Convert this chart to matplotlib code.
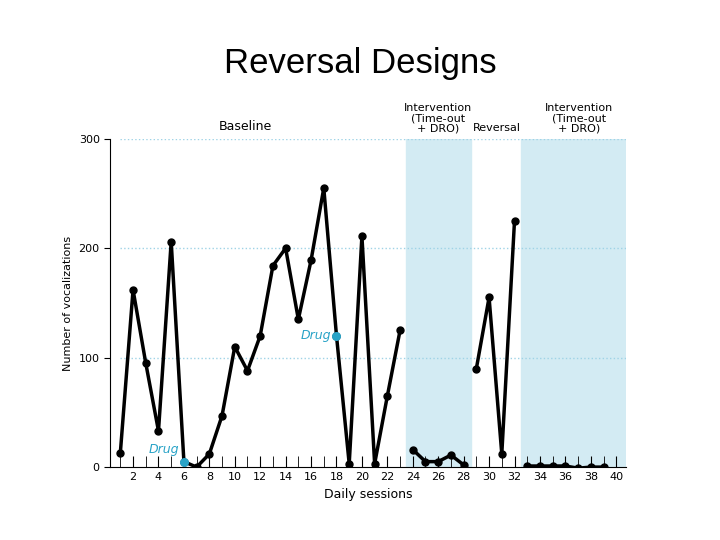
import matplotlib.pyplot as plt

# Sessions and vocalization counts per phase
base_x = list(range(1, 24))
base_y = [13, 162, 95, 33, 206, 5, 0, 12, 47, 110, 88, 120, 184, 200, 135, 189, 255, 120, 3, 211, 3, 65, 125]
int1_x = [24, 25, 26, 27, 28]
int1_y = [16, 5, 5, 11, 2]
rev_x = [29, 30, 31, 32]
rev_y = [90, 155, 12, 225]
int2_x = [33, 34, 35, 36, 37, 38, 39]
int2_y = [1, 1, 1, 1, -1, 0, 0]
drug_x = [6, 18]
drug_y = [5, 120]

tick_pos = [2, 4, 6, 8, 10, 12, 14, 16, 18, 20, 22, 24, 26, 28, 30, 32, 34, 36, 38, 40]
tick_labels = [str(t) for t in tick_pos]

fig = plt.figure(figsize=(7.2, 5.4), dpi=100)
fig.text(0.5, 0.865, 'Reversal Designs', ha='center', fontsize=25, family='Liberation Sans')
ax = fig.add_axes([0.153, 0.135, 0.717, 0.608])

blue = '#29a3c7'
ax.axvspan(23.5, 28.6, color='#d3ebf3', zorder=0)
ax.axvspan(32.5, 40.8, color='#d3ebf3', zorder=0)
for yv in [100, 200, 300]:
    ax.plot([1, 40.8], [yv, yv], ls=':', color='#9fd3e6', lw=1, zorder=1)

for xs, ys in [(base_x, base_y), (int1_x, int1_y), (rev_x, rev_y), (int2_x, int2_y)]:
    ax.plot(xs, ys, color='black', lw=2.5, marker='o', ms=5, zorder=3)
ax.scatter(drug_x, drug_y, color=blue, s=30, zorder=4)
ax.text(5.6, 10, 'Drug', color=blue, ha='right', va='bottom', fontsize=9, style='italic')
ax.text(17.6, 120, 'Drug', color=blue, ha='right', va='center', fontsize=9, style='italic')

ax.set_xlim(0.2, 40.8)
ax.set_ylim(0, 300)
ax.set_yticks([0, 100, 200, 300])
ax.set_xticks(tick_pos)
ax.set_xticklabels(tick_labels, fontsize=8)
ax.set_xticks(range(1, 41), minor=True)
ax.tick_params(axis='x', which='both', direction='in', length=8)
ax.tick_params(axis='y', labelsize=8, length=4)
ax.spines['top'].set_visible(False)
ax.spines['right'].set_visible(False)
ax.set_xlabel('Daily sessions', fontsize=9, loc='center')
ax.set_ylabel('Number of vocalizations', fontsize=8)

hdr_y = 305
ax.text(10.8, hdr_y, 'Baseline', ha='center', va='bottom', fontsize=9)
ax.text(26, hdr_y, 'Intervention\n(Time-out\n+ DRO)', ha='center', va='bottom', fontsize=8, linespacing=1.0)
ax.text(30.6, hdr_y, 'Reversal', ha='center', va='bottom', fontsize=8)
ax.text(37.1, hdr_y, 'Intervention\n(Time-out\n+ DRO)', ha='center', va='bottom', fontsize=8, linespacing=1.0)

fig.savefig('out.png')
